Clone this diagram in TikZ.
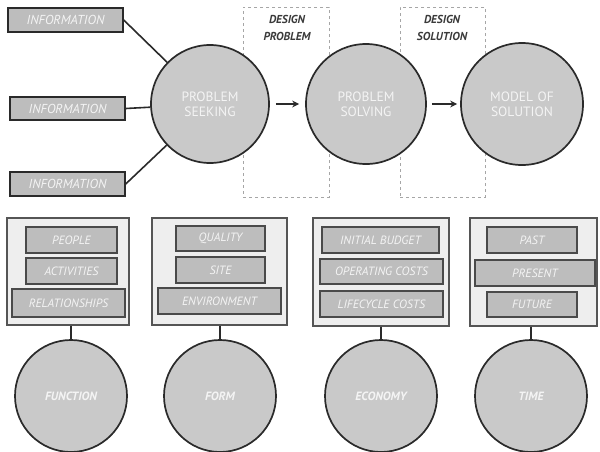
\documentclass[tikz,border=0pt]{standalone}
\usepackage{fontspec}
\setmainfont{PT Sans}
\usetikzlibrary{arrows.meta}
\definecolor{circfill}{HTML}{C9C9C9}
\definecolor{boxfill}{HTML}{BDBDBD}
\definecolor{grpfill}{HTML}{EEEEEE}
\definecolor{edge}{HTML}{2A2A2A}
\definecolor{txtw}{HTML}{F4F4F4}
\definecolor{lbl}{HTML}{3A3A3A}
\tikzset{
  bigcirc/.style={circle, draw=edge, line width=1.7pt, fill=circfill, minimum size=120pt, inner sep=0pt, align=center, text=txtw, font=\fontsize{13.5}{15}\selectfont, text width=90pt},
  lowcirc/.style={circle, draw=edge, line width=1.7pt, fill=circfill, minimum size=112pt, inner sep=0pt, align=center, text=txtw, font=\fontsize{12}{14}\selectfont\bfseries\itshape},
  infobox/.style={rectangle, draw=edge, line width=1.4pt, fill=boxfill, inner sep=0pt, text=txtw, font=\fontsize{13}{14}\selectfont\itshape},
  itembox/.style={rectangle, draw=edge!85, line width=1.3pt, fill=boxfill, inner sep=0pt, text=txtw, font=\fontsize{12}{13}\selectfont\itshape},
  grpbox/.style={rectangle, draw=edge!80, line width=1.2pt, fill=grpfill},
  dashbox/.style={rectangle, draw=gray!70, dash pattern=on 3pt off 3pt, line width=0.9pt},
  designlbl/.style={text=lbl, font=\fontsize{11.5}{12}\selectfont\bfseries\itshape, inner sep=0pt},
  conn/.style={draw=edge, line width=1.6pt},
  flow/.style={draw=edge, line width=1.6pt, -{Stealth[length=7pt,width=7pt]}}
}
\begin{document}
\begin{tikzpicture}[x=1pt,y=-1pt]
\useasboundingbox[fill=white] (0,0) rectangle (600,451);
% dashed frames
\node[dashbox, minimum width=86pt, minimum height=190pt] (dp) at (286,102) {};
\node[dashbox, minimum width=85pt, minimum height=190pt] (ds) at (442.5,102) {};
\node[designlbl] (dp1) at (287,19) {DESIGN};
\node[designlbl] (dp2) at (287,36) {PROBLEM};
\node[designlbl] (ds1) at (442,19) {DESIGN};
\node[designlbl] (ds2) at (442,36) {SOLUTION};
% info boxes
\node[infobox, minimum width=115pt, minimum height=24pt] (i1) at (65.5,20) {INFORMATION};
\node[infobox, minimum width=115pt, minimum height=23pt] (i2) at (67.5,108.5) {INFORMATION};
\node[infobox, minimum width=115pt, minimum height=24pt] (i3) at (67.5,184) {INFORMATION};
% circles
\node[bigcirc, minimum size=118pt] (c1) at (210,104) {PROBLEM\\SEEKING};
\node[bigcirc] (c2) at (366,104) {PROBLEM\\SOLVING};
\node[bigcirc, minimum size=122pt] (c3) at (522,104) {MODEL OF\\SOLUTION};
\draw[conn] (i1.east) -- (c1);
\draw[conn] (i2.east) -- (c1);
\draw[conn] (i3.east) -- (c1);
\draw[flow, shorten <=6pt, shorten >=6pt] (c1) -- (c2);
\draw[flow, shorten <=5pt, shorten >=3pt] (c2) -- (c3);
% groups
\node[grpbox, minimum width=122pt, minimum height=107pt] (g1) at (68,271.5) {};
\node[grpbox, minimum width=135pt, minimum height=107pt] (g2) at (219.5,271.5) {};
\node[grpbox, minimum width=136pt, minimum height=108pt] (g3) at (381,272) {};
\node[grpbox, minimum width=127pt, minimum height=108pt] (g4) at (533.5,272) {};
% items group 1
\node[itembox, minimum width=91pt, minimum height=26pt] (p1) at (71.5,240) {PEOPLE};
\node[itembox, minimum width=91pt, minimum height=26pt] (p2) at (71.5,271) {ACTIVITIES};
\node[itembox, minimum width=113pt, minimum height=28pt] (p3) at (68.5,303) {RELATIONSHIPS};
% items group 2
\node[itembox, minimum width=89pt, minimum height=25pt] (q1) at (220.5,238.5) {QUALITY};
\node[itembox, minimum width=89pt, minimum height=26pt] (q2) at (220.5,270) {SITE};
\node[itembox, minimum width=123pt, minimum height=26pt] (q3) at (219.5,301) {ENVIRONMENT};
% items group 3
\node[itembox, minimum width=117pt, minimum height=26pt] (e1) at (380.5,240) {INITIAL BUDGET};
\node[itembox, minimum width=123pt, minimum height=25pt] (e2) at (381.5,271.5) {OPERATING COSTS};
\node[itembox, minimum width=123pt, minimum height=26pt] (e3) at (381.5,304) {LIFECYCLE COSTS};
% items group 4
\node[itembox, minimum width=90pt, minimum height=26pt] (t1) at (532,240) {PAST};
\node[itembox, minimum width=120pt, minimum height=26pt] (t2) at (535,273) {PRESENT};
\node[itembox, minimum width=90pt, minimum height=25pt] (t3) at (532,304.5) {FUTURE};
% bottom circles
\node[lowcirc] (f1) at (71,396) {FUNCTION};
\node[lowcirc] (f2) at (220,396) {FORM};
\node[lowcirc] (f3) at (381,396) {ECONOMY};
\node[lowcirc] (f4) at (531,396) {TIME};
\draw[conn] (f1.north |- g1.south) -- (f1.north);
\draw[conn] (f2.north |- g2.south) -- (f2.north);
\draw[conn] (f3.north |- g3.south) -- (f3.north);
\draw[conn] (f4.north |- g4.south) -- (f4.north);
\end{tikzpicture}
\end{document}
